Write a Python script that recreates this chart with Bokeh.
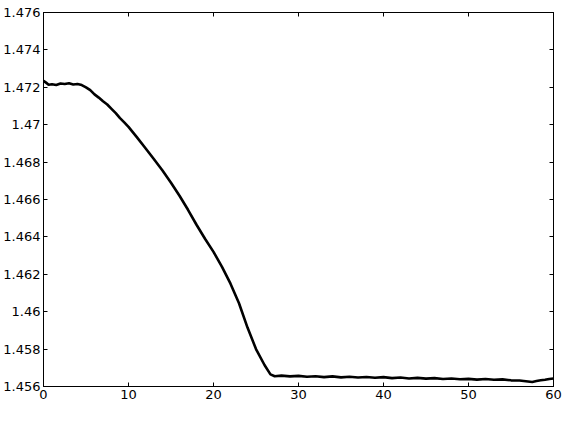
from bokeh.plotting import figure
from bokeh.models import LinearAxis, FixedTicker, Range1d
from bokeh.embed import file_html
from bokeh.resources import INLINE

x_vals = [0, 0.3, 0.6, 1, 1.5, 2, 2.5, 3, 3.5, 4, 4.5, 5, 5.5, 6, 6.5, 7, 7.5, 8, 8.5, 9, 9.5,
          10, 11, 12, 13, 14, 15, 16, 17, 18, 19, 20, 21, 22, 23, 24, 25, 26, 26.7, 27.2,
          28, 29, 30, 31, 32, 33, 34, 35, 36, 37, 38, 39, 40, 41, 42, 43, 44, 45, 46, 47,
          48, 49, 50, 51, 52, 53, 54, 55, 56, 57, 57.5, 58, 58.5, 59, 59.5, 60]
y_vals = [1.47234, 1.47225, 1.47214, 1.47216, 1.47212, 1.47220, 1.47218, 1.47222, 1.47215, 1.47218,
          1.47212, 1.47200, 1.47185, 1.47162, 1.47145, 1.47125, 1.47108, 1.47085, 1.47062, 1.47035,
          1.47012, 1.46988, 1.46932, 1.46874, 1.46815, 1.46755, 1.46690, 1.46620, 1.46545, 1.46465,
          1.46390, 1.46320, 1.46240, 1.46150, 1.46045, 1.45915, 1.45800, 1.45715, 1.45665, 1.45655,
          1.45658, 1.45654, 1.45657, 1.45652, 1.45655, 1.45650, 1.45654, 1.45649, 1.45652, 1.45648,
          1.45651, 1.45647, 1.45650, 1.45645, 1.45648, 1.45643, 1.45646, 1.45642, 1.45645, 1.45640,
          1.45643, 1.45639, 1.45641, 1.45637, 1.45640, 1.45636, 1.45638, 1.45633, 1.45632, 1.45627,
          1.45624, 1.45629, 1.45633, 1.45636, 1.45640, 1.45643]

x_ticks = [0, 10, 20, 30, 40, 50, 60]
y_ticks = [1.456, 1.458, 1.46, 1.462, 1.464, 1.466, 1.468, 1.47, 1.472, 1.474, 1.476]
y_tick_labels = ["1.456", "1.458", "1.46", "1.462", "1.464", "1.466", "1.468", "1.47", "1.472", "1.474", "1.476"]

p = figure(width=570, height=422, output_backend="svg", toolbar_location=None,
           x_range=Range1d(0, 60), y_range=Range1d(1.456, 1.476),
           x_axis_location=None, y_axis_location=None,
           min_border_left=42, min_border_right=17, min_border_top=12, min_border_bottom=36)
p.grid.visible = False
p.outline_line_color = "black"
p.outline_line_width = 1
p.background_fill_color = "white"
p.border_fill_color = "white"

p.line(x_vals, y_vals, line_color="black", line_width=2.6)

def style(ax, labels=True):
    ax.major_tick_in = 4
    ax.major_tick_out = 0
    ax.minor_tick_line_color = None
    ax.axis_line_color = "black"
    ax.major_tick_line_color = "black"
    ax.major_label_text_font = "DejaVu Sans"
    ax.major_label_text_font_size = "13px"
    ax.major_label_text_color = "black" if labels else None
    ax.major_label_standoff = 3

xb = LinearAxis(ticker=FixedTicker(ticks=x_ticks))
style(xb)
xb.major_label_standoff = 3
p.add_layout(xb, "below")
xt = LinearAxis(ticker=FixedTicker(ticks=x_ticks))
style(xt, labels=False)
xt.major_label_text_font_size = "0px"
xt.major_label_standoff = 0
p.add_layout(xt, "above")

yl = LinearAxis(ticker=FixedTicker(ticks=y_ticks))
style(yl)
yl.major_label_overrides = {t: s for t, s in zip(y_ticks, y_tick_labels)}
p.add_layout(yl, "left")
yr = LinearAxis(ticker=FixedTicker(ticks=y_ticks))
style(yr, labels=False)
yr.major_label_text_font_size = "0px"
yr.major_label_standoff = 0
p.add_layout(yr, "right")

open("out.html", "w").write(file_html(p, INLINE))
